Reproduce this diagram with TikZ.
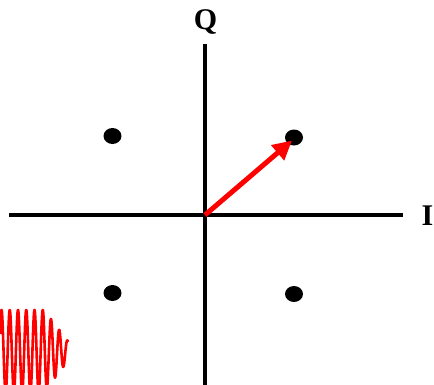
\documentclass[tikz,border=0pt]{standalone}
\usepackage{fontspec}
\setmainfont{Liberation Serif}
\usetikzlibrary{arrows.meta}
\tikzset{
  axis/.style={line width=4pt, black},
  dot/.style={fill=black},
  lbl/.style={font=\fontsize{30}{34}\selectfont\bfseries, inner sep=0pt},
  vec/.style={red, line width=5pt, -{Triangle[length=19pt,width=19pt]}},
  wave/.style={red, line width=2.6pt, line join=round}
}
\begin{document}
\begin{tikzpicture}[x=1pt,y=-1pt]
\useasboundingbox (0,0) rectangle (434,384);
% axes
\coordinate (O) at (205,215);
\coordinate (xl) at (9,215.3);
\coordinate (xr) at (403,215.3);
\coordinate (yt) at (204.7,44);
\coordinate (yb) at (204.7,390);
\draw[axis] (xl) -- (xr);
\draw[axis] (yt) -- (yb);
% labels
\node[lbl, anchor=base] (Q) at (205.5,29) {Q};
\node[lbl, anchor=base west] (I) at (421.5,225) {I};
% constellation points
\fill[dot] (112.5,136) ellipse [x radius=9, y radius=8];
\fill[dot] (294,137.5) ellipse [x radius=9, y radius=8];
\fill[dot] (112.5,293) ellipse [x radius=9, y radius=8];
\fill[dot] (294,294) ellipse [x radius=9, y radius=8];
% vector
\coordinate (tip) at (292,140.5);
\draw[vec] (O) -- (tip);
% wave
\begin{scope}
\clip (0,0) rectangle (434,384);
\draw[wave] plot[domain=0:68, samples=500] (\x, {351 - min(41, 41-1.3*(\x-44))*cos(43.636*(\x-1.5))});
\end{scope}
\end{tikzpicture}
\end{document}
